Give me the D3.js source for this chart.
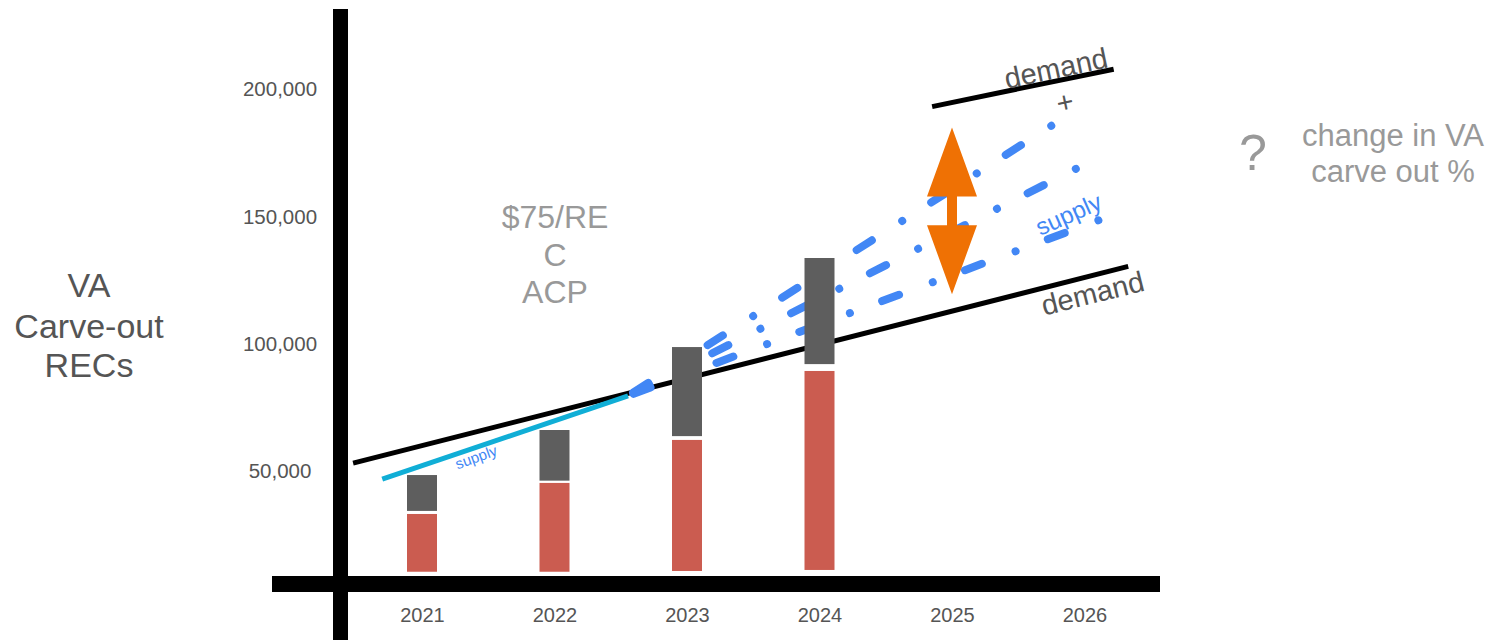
<!DOCTYPE html>
<html>
<head>
<meta charset="utf-8">
<script src="https://cdn.jsdelivr.net/npm/d3@7/dist/d3.min.js"></script>
<style>
  html, body { margin: 0; padding: 0; background: #fff; }
  svg { display: block; font-family: "Liberation Sans", Arial, Helvetica, sans-serif; }
</style>
</head>
<body>
<svg id="chart" width="1492" height="640"></svg>
<script>
// ---- data ----
const years = [2021, 2022, 2023, 2024, 2025, 2026];
const barYears = [2021, 2022, 2023, 2024];
const barBase = [10400, 10400, 10700, 11100];       // bottom of each stack
const vaRecs = [33100, 45300, 62200, 89300];         // red segment top
const otherStart = [34300, 46200, 63700, 92000];     // grey segment bottom
const otherEnd = [48400, 66100, 98700, 133700];      // grey segment top
const yTicks = [50000, 100000, 150000, 200000];

// straight demand line (year, RECs)
const demandYears = [2020.48, 2026.33];
const demandValues = [53100, 130400];
// raised demand after the carve-out change
const demandHighYears = [2024.85, 2026.22];
const demandHighValues = [193200, 207900];
// historical supply
const supplyYears = [2020.70, 2022.555];
const supplyValues = [46800, 79500];
// projected supply scenarios (common start, three endings)
const projStartYear = 2022.555;
const projStartValue = 79500;
const projEndYears = [2025.79, 2025.94, 2026.11];
const projEndValues = [187000, 168900, 148600];
// uncertainty arrow
const arrowYear = 2025;
const arrowHigh = 185000;
const arrowLow = 119500;

// ---- scales ----
const svg = d3.select("#chart");
const x = d3.scaleLinear().domain([2021, 2026]).range([422, 1084.5]);
const y = d3.scaleLinear().domain([0, 200000]).range([598.2, 89.3]);

const line = d3.line().x(d => x(d[0])).y(d => y(d[1]));

// ---- axes labels ----
const yAxis = svg.append("g")
  .attr("transform", "translate(280,0)")
  .call(d3.axisLeft(y).tickValues(yTicks).tickFormat(d3.format(",")).tickSize(0).tickPadding(0));
yAxis.select(".domain").remove();
yAxis.selectAll("text")
  .attr("text-anchor", "middle")
  .attr("font-size", 20.5)
  .attr("font-family", "Liberation Sans, Arial, sans-serif")
  .attr("fill", "#555");

const xAxis = svg.append("g")
  .attr("transform", "translate(0,598)")
  .call(d3.axisBottom(x).tickValues(years).tickFormat(d3.format("d")).tickSize(0).tickPadding(9.8));
xAxis.select(".domain").remove();
xAxis.selectAll("text")
  .attr("font-size", 20)
  .attr("font-family", "Liberation Sans, Arial, sans-serif")
  .attr("fill", "#555");

// ---- lines under the bars ----
svg.append("path")
  .attr("d", line(d3.zip(demandYears, demandValues)))
  .attr("fill", "none").attr("stroke", "#000").attr("stroke-width", 5);

svg.append("path")
  .attr("d", line(d3.zip(demandHighYears, demandHighValues)))
  .attr("fill", "none").attr("stroke", "#000").attr("stroke-width", 5);

svg.append("path")
  .attr("d", line(d3.zip(supplyYears, supplyValues)))
  .attr("fill", "none").attr("stroke", "#10aed6").attr("stroke-width", 5);

svg.selectAll("path.proj")
  .data(d3.zip(projEndYears, projEndValues))
  .join("path")
  .attr("class", "proj")
  .attr("d", d => line([[projStartYear, projStartValue], d]))
  .attr("fill", "none")
  .attr("stroke", "#4287f5")
  .attr("stroke-width", 8)
  .attr("stroke-linecap", "round")
  .attr("stroke-dasharray", "18,36,0.01,34.4")
  .attr("stroke-dashoffset", 82.4);

// ---- stacked bars ----
const bw = 30;
barYears.forEach((yr, i) => {
  svg.append("rect")
    .attr("x", x(yr) - bw / 2).attr("width", bw)
    .attr("y", y(vaRecs[i])).attr("height", y(barBase[i]) - y(vaRecs[i]))
    .attr("fill", "#cb5c50");
  svg.append("rect")
    .attr("x", x(yr) - bw / 2).attr("width", bw)
    .attr("y", y(otherEnd[i])).attr("height", y(otherStart[i]) - y(otherEnd[i]))
    .attr("fill", "#5e5e5e");
});

// ---- double-headed arrow ----
const ax = x(arrowYear), aTop = y(arrowHigh), aBot = y(arrowLow);
const headLen = 69, headHalf = 25, shaftHalf = 5;
const arrowPath = [
  [ax, aTop], [ax + headHalf, aTop + headLen], [ax + shaftHalf, aTop + headLen],
  [ax + shaftHalf, aBot - headLen], [ax + headHalf, aBot - headLen], [ax, aBot],
  [ax - headHalf, aBot - headLen], [ax - shaftHalf, aBot - headLen],
  [ax - shaftHalf, aTop + headLen], [ax - headHalf, aTop + headLen]
];
svg.append("path")
  .attr("d", d3.line()(arrowPath) + "Z")
  .attr("fill", "#ef7104");

// ---- axis bars ----
svg.append("rect").attr("x", 333).attr("y", 9).attr("width", 15).attr("height", 640).attr("fill", "#000");
svg.append("rect").attr("x", 272).attr("y", 576).attr("width", 888).attr("height", 16).attr("fill", "#000");

// ---- annotations ----
const txt = (s, px, py, opts = {}) => svg.append("text")
  .attr("x", px).attr("y", py)
  .attr("text-anchor", opts.anchor || "middle")
  .attr("font-size", opts.size || 20)
  .attr("fill", opts.fill || "#555")
  .attr("transform", opts.rotate ? `rotate(${opts.rotate},${px},${py})` : null)
  .text(s);

txt("VA", 89, 297, { size: 34 });
txt("Carve-out", 89, 338, { size: 34 });
txt("RECs", 89, 377, { size: 34 });

txt("$75/RE", 555, 228, { size: 32, fill: "#999" });
txt("C", 555, 265.5, { size: 32, fill: "#999" });
txt("ACP", 555, 302.5, { size: 32, fill: "#999" });

txt("?", 1253, 170, { size: 50, fill: "#999" });
txt("change in VA", 1393, 146, { size: 31, fill: "#999" });
txt("carve out %", 1393, 182, { size: 31, fill: "#999" });

txt("demand", 1058, 78, { size: 29, rotate: -12 });
txt("demand", 1095, 303, { size: 29, rotate: -14 });
txt("+", 1067, 112, { size: 29, rotate: -12 });

txt("supply", 1072, 222, { size: 24, fill: "#4287f5", rotate: -24 });
txt("supply", 478, 462, { size: 15, fill: "#4287f5", rotate: -20 });
</script>
</body>
</html>
